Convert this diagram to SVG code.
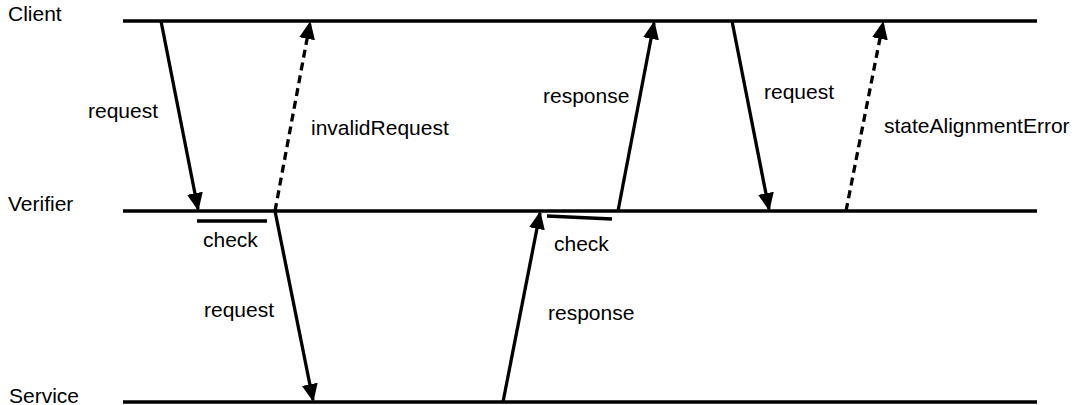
<svg xmlns="http://www.w3.org/2000/svg" width="1077" height="405" viewBox="0 0 1077 405">
<style>
text{font-family:"Liberation Sans",Arial,sans-serif;font-size:21px;fill:#000}
.life{stroke:#000;stroke-width:3.5;fill:none}
.msg{stroke:#000;stroke-width:3.3;fill:none;marker-end:url(#ah)}
.dash{stroke-dasharray:8 5}
.chk{stroke:#000;stroke-width:3.5;fill:none}
</style>
<defs>
<marker id="ah" viewBox="0 0 18 16" refX="16" refY="8" markerWidth="18" markerHeight="16" markerUnits="userSpaceOnUse" orient="auto">
<path d="M0,0 L18,8 L0,16 Z" fill="#000"/>
</marker>
</defs>
<g id="client"><line class="life" x1="123" y1="21" x2="1037" y2="21"/><text x="8" y="21">Client</text></g>
<g id="verifier"><line class="life" x1="123" y1="211" x2="1037" y2="211"/><text x="8" y="211">Verifier</text></g>
<g id="service"><line class="life" x1="123" y1="402" x2="1037" y2="402"/><text x="9" y="403">Service</text></g>
<g id="check1"><line class="chk" x1="197" y1="221" x2="267" y2="221"/><text x="203" y="247">check</text></g>
<g id="check2"><line class="chk" x1="547" y1="216" x2="612" y2="219"/><text x="554" y="251">check</text></g>
<g id="connectors">
<line class="msg" x1="161" y1="21" x2="198" y2="209"/>
<line class="msg dash" x1="275" y1="211" x2="310" y2="23"/>
<line class="msg" x1="275" y1="211" x2="313" y2="400"/>
<line class="msg" x1="503" y1="402" x2="540" y2="213"/>
<line class="msg" x1="618" y1="211" x2="654" y2="23"/>
<line class="msg" x1="732" y1="21" x2="769" y2="209"/>
<line class="msg dash" x1="846" y1="211" x2="883" y2="23"/>
</g>
<g id="labels">
<text x="88" y="118">request</text>
<text x="311" y="135">invalidRequest</text>
<text x="543" y="103">response</text>
<text x="764" y="99">request</text>
<text x="884" y="133">stateAlignmentError</text>
<text x="204" y="317">request</text>
<text x="548" y="320">response</text>
</g>
</svg>
